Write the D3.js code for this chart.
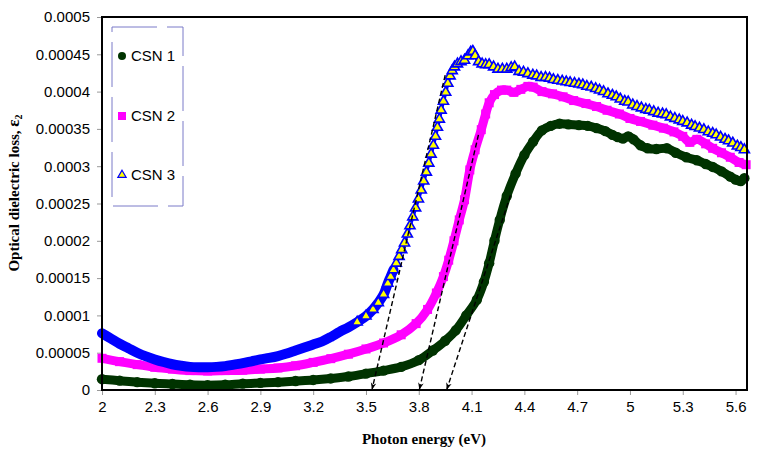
<!DOCTYPE html>
<html><head><meta charset="utf-8">
<script src="https://cdn.jsdelivr.net/npm/d3@7"></script>
<style>body{margin:0;background:#fff}svg{display:block}</style>
</head><body>
<script>
// ---------- DATA ----------
const seriesNames = ["CSN 1", "CSN 2", "CSN 3"];
const xTickLabels = [2, 2.3, 2.6, 2.9, 3.2, 3.5, 3.8, 4.1, 4.4, 4.7, 5, 5.3, 5.6];
const yTickValues = [0, 0.00005, 0.0001, 0.00015, 0.0002, 0.00025, 0.0003, 0.00035, 0.0004, 0.00045, 0.0005];
const yTickLabels = ["0", "0.00005", "0.0001", "0.00015", "0.0002", "0.00025", "0.0003", "0.00035", "0.0004", "0.00045", "0.0005"];

const csn1Energy = [2.00,2.10,2.20,2.30,2.40,2.50,2.60,2.70,2.80,2.90,3.00,3.10,3.20,3.30,3.40,3.50,3.60,3.70,3.80,3.88,3.95,4.01,4.07,4.13,4.17,4.20,4.23,4.26,4.30,4.35,4.40,4.45,4.50,4.55,4.60,4.65,4.71,4.76,4.81,4.86,4.90,4.93,4.96,4.99,5.02,5.06,5.10,5.15,5.21,5.26,5.32,5.38,5.43,5.47,5.52,5.57,5.60,5.63,5.65];
const csn1Loss = [1.45e-5,1.25e-5,1.05e-5,0.9e-5,0.8e-5,0.7e-5,0.65e-5,0.7e-5,0.85e-5,0.95e-5,1.05e-5,1.2e-5,1.35e-5,1.55e-5,1.8e-5,2.2e-5,2.6e-5,3.1e-5,4.0e-5,5.3e-5,6.6e-5,8.0e-5,10.0e-5,12.1e-5,14.5e-5,17.0e-5,20.0e-5,22.8e-5,26.0e-5,29.0e-5,31.5e-5,33.3e-5,34.8e-5,35.4e-5,35.7e-5,35.6e-5,35.5e-5,35.4e-5,35.1e-5,34.7e-5,34.2e-5,33.9e-5,33.7e-5,34.0e-5,33.6e-5,32.8e-5,32.4e-5,32.3e-5,32.4e-5,31.8e-5,31.2e-5,30.8e-5,30.3e-5,29.9e-5,29.3e-5,28.6e-5,28.2e-5,28.0e-5,28.4e-5];

const csn2Energy = [2.00,2.10,2.20,2.30,2.40,2.50,2.60,2.70,2.80,2.90,3.00,3.10,3.20,3.30,3.40,3.50,3.60,3.70,3.785,3.85,3.90,3.94,3.97,4.00,4.03,4.06,4.09,4.12,4.155,4.18,4.20,4.23,4.27,4.30,4.34,4.38,4.42,4.45,4.50,4.56,4.62,4.68,4.75,4.81,4.87,4.94,5.00,5.06,5.13,5.19,5.25,5.30,5.34,5.38,5.43,5.47,5.52,5.57,5.62,5.66];
const csn2Loss = [4.25e-5,3.8e-5,3.4e-5,3.05e-5,2.8e-5,2.6e-5,2.55e-5,2.6e-5,2.65e-5,2.8e-5,2.95e-5,3.25e-5,3.7e-5,4.2e-5,4.8e-5,5.5e-5,6.3e-5,7.4e-5,8.9e-5,10.8e-5,13.0e-5,15.2e-5,17.4e-5,20.0e-5,22.8e-5,25.5e-5,29.5e-5,32.2e-5,34.9e-5,37.0e-5,38.5e-5,39.6e-5,40.2e-5,40.2e-5,39.9e-5,40.3e-5,40.7e-5,40.6e-5,40.0e-5,39.7e-5,39.3e-5,38.8e-5,38.4e-5,38.0e-5,37.5e-5,37.0e-5,36.4e-5,36.0e-5,35.5e-5,35.1e-5,34.6e-5,34.0e-5,33.2e-5,33.6e-5,33.0e-5,32.4e-5,31.8e-5,31.2e-5,30.5e-5,30.2e-5];

const csn3Energy = [2.00,2.05,2.10,2.15,2.20,2.25,2.30,2.35,2.40,2.45,2.50,2.55,2.60,2.65,2.70,2.75,2.80,2.85,2.90,2.95,3.00,3.05,3.10,3.15,3.20,3.25,3.30,3.35,3.40,3.45,3.50,3.54,3.57,3.60,
  3.624,3.640,3.656,3.672,3.688,3.703,3.719,3.735,3.750,3.766,3.782,3.798,3.814,3.828,3.843,3.857,3.870,3.883,3.895,3.906,3.917,3.927,3.940,3.953,3.965,3.978,3.990,4.003,4.020,4.040,4.060,4.080,4.095,4.107,4.120,4.140,4.160,4.180,4.200,
  4.225,4.250,4.275,4.300,4.325,4.345,4.370,4.395,4.420,4.448,4.470,4.495,4.520,4.543,4.565,4.590,4.615,4.638,4.660,4.685,4.710,4.732,4.755,4.780,4.805,4.827,4.850,4.875,4.900,4.922,4.945,4.970,4.990,
  5.016,5.040,5.065,5.090,5.110,5.135,5.160,5.185,5.206,5.230,5.255,5.280,5.300,5.325,5.350,5.370,5.395,5.420,5.445,5.470,5.490,5.515,5.540,5.560,5.584,5.610,5.630,5.650];
const csn3Loss = [7.6e-5,6.9e-5,6.2e-5,5.6e-5,5.0e-5,4.5e-5,4.1e-5,3.75e-5,3.45e-5,3.25e-5,3.1e-5,3.05e-5,3.05e-5,3.1e-5,3.2e-5,3.4e-5,3.6e-5,3.85e-5,4.1e-5,4.3e-5,4.55e-5,4.9e-5,5.3e-5,5.7e-5,6.1e-5,6.5e-5,7.1e-5,7.8e-5,8.4e-5,9.1e-5,9.9e-5,10.8e-5,11.7e-5,12.8e-5,
  14.3e-5,15.2e-5,16.1e-5,17.0e-5,17.9e-5,18.8e-5,19.7e-5,20.9e-5,22.0e-5,23.2e-5,24.4e-5,25.6e-5,26.8e-5,28.0e-5,29.2e-5,30.4e-5,31.6e-5,32.8e-5,34.0e-5,35.2e-5,36.3e-5,37.5e-5,38.7e-5,39.9e-5,41.1e-5,42.1e-5,42.8e-5,43.3e-5,43.7e-5,44.0e-5,44.2e-5,44.8e-5,45.3e-5,45.4e-5,44.8e-5,44.0e-5,43.7e-5,43.6e-5,43.6e-5,
  43.3e-5,43.0e-5,43.0e-5,43.0e-5,43.2e-5,43.3e-5,42.7e-5,42.6e-5,42.4e-5,42.2e-5,42.1e-5,41.9e-5,41.9e-5,41.8e-5,41.6e-5,41.5e-5,41.4e-5,41.3e-5,41.2e-5,41.1e-5,41.0e-5,40.9e-5,40.7e-5,40.6e-5,40.4e-5,40.2e-5,40.0e-5,39.7e-5,39.5e-5,39.3e-5,39.0e-5,38.7e-5,38.6e-5,
  38.2e-5,38.0e-5,37.8e-5,37.6e-5,37.5e-5,37.3e-5,37.1e-5,37.0e-5,36.9e-5,36.6e-5,36.4e-5,36.2e-5,36.0e-5,35.8e-5,35.5e-5,35.3e-5,35.1e-5,34.9e-5,34.6e-5,34.4e-5,34.2e-5,33.9e-5,33.6e-5,33.4e-5,33.1e-5,32.7e-5,32.5e-5,32.2e-5];

// tangent (band-gap extrapolation) lines: start energy, start value, intercept energy
const tangentStartEnergy = [3.95, 4.139, 4.321];
const tangentStartLoss = [42.2e-5, 34.2e-5, 26.1e-5];
const tangentIntercept = [3.535, 3.804, 3.960];

// ---------- CHART ----------
const W = 760, H = 457;
const svg = d3.select("body").append("svg").attr("width", W).attr("height", H);
const x = d3.scaleLinear().domain([2, 5.665]).range([102, 747]);
const y = d3.scaleLinear().domain([0, 0.0005]).range([390, 17]);

const defs = svg.append("defs");
defs.append("marker").attr("id", "arr").attr("viewBox", "0 0 10 10")
  .attr("refX", 9).attr("refY", 5).attr("markerWidth", 7).attr("markerHeight", 7)
  .attr("markerUnits", "userSpaceOnUse").attr("orient", "auto")
  .append("path").attr("d", "M0,1 L10,5 L0,9 L3,5 Z").attr("fill", "#000");

// axes ticks
const xAxis = d3.axisBottom(x).tickValues(xTickLabels).tickSize(5).tickPadding(6)
  .tickFormat(d => String(d));
const gx = svg.append("g").attr("transform", "translate(0,390)").call(xAxis);
gx.select(".domain").remove();
gx.selectAll("line").attr("stroke", "#999");
gx.selectAll("text").attr("font-family", "Liberation Sans, Arial, sans-serif").attr("font-size", 15).attr("fill", "#000");

const yAxis = d3.axisLeft(y).tickValues(yTickValues).tickSize(5).tickPadding(7)
  .tickFormat((d, i) => yTickLabels[i]);
const gy = svg.append("g").attr("transform", "translate(102,0)").call(yAxis);
gy.select(".domain").remove();
gy.selectAll("line").attr("stroke", "#999");
gy.selectAll("text").attr("font-family", "Liberation Sans, Arial, sans-serif").attr("font-size", 15).attr("fill", "#000");

const plot = svg.append("g");
const line = d3.line().x(d => x(d[0])).y(d => y(d[1])).curve(d3.curveCatmullRom);

const s1 = csn1Energy.map((e, i) => [e, csn1Loss[i]]);
const s2 = csn2Energy.map((e, i) => [e, csn2Loss[i]]);
const s3 = csn3Energy.map((e, i) => [e, csn3Loss[i]]);

// CSN 1
plot.append("path").datum(s1).attr("d", line).attr("fill", "none")
  .attr("stroke", "#003300").attr("stroke-width", 9).attr("stroke-linecap", "round").attr("stroke-linejoin", "round");
plot.selectAll(".c1").data(s1).enter().append("circle")
  .attr("cx", d => x(d[0])).attr("cy", d => y(d[1])).attr("r", 5.2).attr("fill", "#003300");
// CSN 2
plot.append("path").datum(s2).attr("d", line).attr("fill", "none")
  .attr("stroke", "#ff00ff").attr("stroke-width", 9).attr("stroke-linejoin", "round");
plot.selectAll(".c2").data(s2).enter().append("rect")
  .attr("x", d => x(d[0]) - 4.5).attr("y", d => y(d[1]) - 4.5).attr("width", 9).attr("height", 9).attr("fill", "#ff00ff");
// CSN 3 : densely overlapping markers merge into a solid band at low energy
plot.append("path").datum(s3.filter(d => d[0] <= 3.66)).attr("d", line).attr("fill", "none")
  .attr("stroke", "#0000ff").attr("stroke-width", 10).attr("stroke-linecap", "round").attr("stroke-linejoin", "round");
plot.append("path").datum(s3.filter(d => d[0] >= 3.55)).attr("d", line).attr("fill", "none")
  .attr("stroke", "#0000ff").attr("stroke-width", 3.5).attr("stroke-linejoin", "round");
const tri = d3.symbol().type(d3.symbolTriangle).size(44);
plot.selectAll(".c3").data(s3.filter(d => d[0] >= 3.45)).enter().append("path")
  .attr("d", tri).attr("transform", d => `translate(${x(d[0])},${y(d[1])})`)
  .attr("fill", "#ffff00").attr("stroke", "#0000ff").attr("stroke-width", 1.6);

// tangent lines
tangentIntercept.forEach((e0, i) => {
  svg.append("line")
    .attr("x1", x(tangentStartEnergy[i])).attr("y1", y(tangentStartLoss[i]))
    .attr("x2", x(e0)).attr("y2", y(0) - 1)
    .attr("stroke", "#000").attr("stroke-width", 1.4).attr("stroke-dasharray", "5,3")
    .attr("marker-end", "url(#arr)");
});

// plot frame
svg.append("rect").attr("x", 102).attr("y", 17).attr("width", 645).attr("height", 373)
  .attr("fill", "none").attr("stroke", "#000").attr("stroke-width", 2);

// legend
svg.append("rect").attr("x", 112).attr("y", 27).attr("width", 71).attr("height", 179)
  .attr("fill", "none").attr("stroke", "#7b7bc8").attr("stroke-width", 1).attr("stroke-dasharray", "45,10");
const legY = [56, 116, 175];
const lg = svg.append("g").attr("font-family", "Liberation Sans, Arial, sans-serif").attr("font-size", 15);
lg.append("circle").attr("cx", 122).attr("cy", legY[0]).attr("r", 4).attr("fill", "#003300");
lg.append("rect").attr("x", 118).attr("y", legY[1] - 4).attr("width", 8).attr("height", 8).attr("fill", "#ff00ff");
lg.append("path").attr("d", d3.symbol().type(d3.symbolTriangle).size(30)).attr("transform", `translate(122,${legY[2]})`)
  .attr("fill", "#ffff00").attr("stroke", "#0000ff").attr("stroke-width", 1.2);
seriesNames.forEach((n, i) => {
  lg.append("text").attr("x", 131).attr("y", legY[i]).attr("dy", "0.35em").text(n);
});

// axis titles
svg.append("text").attr("x", 424).attr("y", 444).attr("text-anchor", "middle")
  .attr("font-family", "Liberation Serif, Times New Roman, serif").attr("font-weight", "bold").attr("font-size", 15)
  .text("Photon energy (eV)");
const yt = svg.append("text").attr("transform", "translate(19,193) rotate(-90)").attr("text-anchor", "middle")
  .attr("font-family", "Liberation Serif, Times New Roman, serif").attr("font-weight", "bold").attr("font-size", 15);
yt.append("tspan").text("Optical dielectric loss, ");
yt.append("tspan").attr("font-size", 17).text("ε");
yt.append("tspan").attr("font-size", 10).attr("dy", 3).text("2");
</script>
</body></html>
